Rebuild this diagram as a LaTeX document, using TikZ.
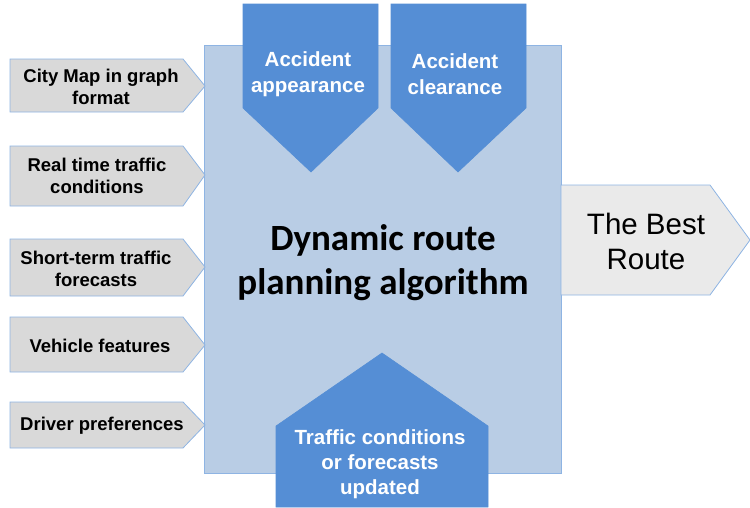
\documentclass[tikz,border=0pt]{standalone}
\usepackage{fontspec}
\setmainfont{Liberation Sans}
\newfontfamily\titlefont{Carlito}
\definecolor{boxblue}{HTML}{B9CDE5}
\definecolor{edgeblue}{HTML}{8EB4E3}
\definecolor{darkblue}{HTML}{558ED5}
\definecolor{ingray}{HTML}{D9D9D9}
\definecolor{outgray}{HTML}{EAEAEA}
\tikzset{
    inarrow/.style={fill=ingray,draw=edgeblue,line width=0.8pt},
    eventarrow/.style={fill=darkblue,draw=darkblue,line width=0.6pt},
    intext/.style={align=center,font=\bfseries\fontsize{18.5}{22}\selectfont},
    eventtext/.style={align=center,text=white,font=\bfseries\fontsize{20.5}{26}\selectfont}
}
\begin{document}
\begin{tikzpicture}[x=1pt,y=-1pt]
                \useasboundingbox (0,0) rectangle (750,507);
                % main block
                \draw[fill=boxblue,draw=edgeblue,line width=0.8pt]
                    (204,45) rectangle (561,473);
                % inputs on the left
                \draw[inarrow]
                    (10,59) -- (183,59) -- (205,86) -- (183,112) -- (10,112) -- cycle;
                \draw[inarrow]
                    (10,146) -- (183,146) -- (205,175) -- (183,206) -- (10,206) -- cycle;
                \draw[inarrow]
                    (10,239) -- (183,239) -- (205,267) -- (183,296) -- (10,296) -- cycle;
                \draw[inarrow]
                    (10,317) -- (183,317) -- (205,345) -- (183,372) -- (10,372) -- cycle;
                \draw[inarrow]
                    (10,402) -- (183,402) -- (205,425) -- (183,448) -- (10,448) -- cycle;
                \node[intext] (citymap) at (101,87) {City Map in graph\\format};
                \node[intext] (realtime) at (97,176) {Real time traffic\\conditions};
                \node[intext] (shortterm) at (96,269) {Short-term traffic\\forecasts};
                \node[intext] (vehicle) at (100,346) {Vehicle features};
                \node[intext] (driver) at (102,426) {Driver preferences};
                % events from above and below
                \draw[eventarrow]
                    (243,4) -- (378,4) -- (378,108) -- (311,172) -- (243,108) -- cycle;
                \draw[eventarrow]
                    (391,4) -- (526,4) -- (526,108) -- (458,172) -- (391,108) -- cycle;
                \draw[eventarrow]
                    (276,507) -- (276,426) -- (382,353) -- (488,426) -- (488,507) -- cycle;
                \node[eventtext] (appear) at (308,74) {Accident\\appearance};
                \node[eventtext] (clear) at (455,74) {Accident\\clearance};
                \node[eventtext,font=\bfseries\fontsize{20.5}{25}\selectfont] (updated) at (380,464)
                    {Traffic conditions\\or forecasts\\updated};
                \node[align=center,font=\titlefont\bfseries\fontsize{37}{44}\selectfont] (algo)
                    at (383,263) {Dynamic route\\planning algorithm};
                % output
                \draw[fill=outgray,draw=edgeblue,line width=0.8pt]
                    (561,185) -- (710,185) -- (750,240) -- (710,295) -- (561,295) -- cycle;
                \node[align=center,font=\fontsize{29.5}{35}\selectfont] (route)
                    at (646,241) {The Best\\Route};
\end{tikzpicture}
\end{document}
